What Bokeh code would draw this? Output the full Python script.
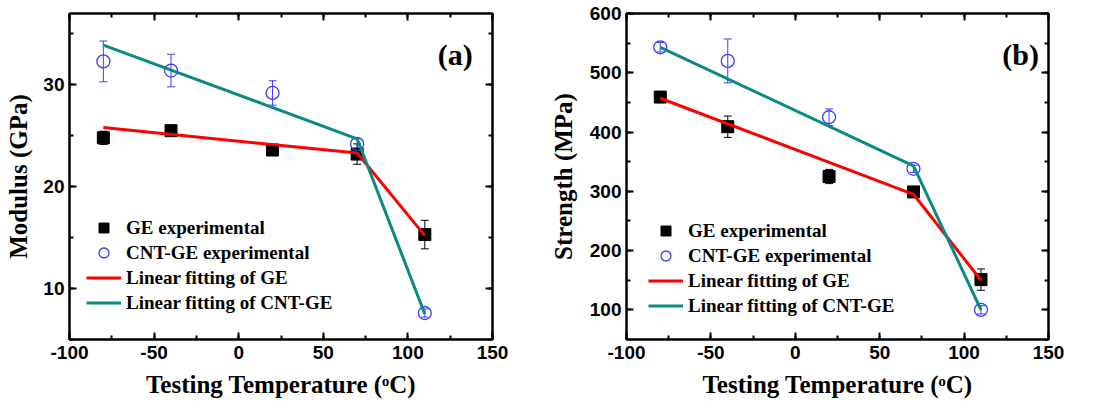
from bokeh.plotting import figure
from bokeh.layouts import row
from bokeh.models import (Range1d, LinearAxis, SingleIntervalTicker, Whisker, ColumnDataSource,
                          Legend, LegendItem, Label, TeeHead, CustomLabelingPolicy)
from bokeh.embed import file_html
from bokeh.resources import INLINE

# ---------------- data ----------------
temps = [-80, -40, 20, 70, 110]
fit_temps = [-80, 70, 110]

ge_modulus = [24.8, 25.5, 23.6, 23.2, 15.3]
ge_modulus_err = [0.65, 0.3, 0.3, 1.0, 1.4]
cnt_modulus = [32.3, 31.4, 29.2, 24.2, 7.6]
cnt_modulus_err = [2.0, 1.6, 1.2, 0.5, 0.4]
ge_modulus_fit = [25.8, 23.3, 15.2]
cnt_modulus_fit = [33.9, 24.7, 7.5]

ge_strength = [459, 409, 325, 299, 151]
ge_strength_err = [5, 18, 12, 5, 18]
cnt_strength = [543, 520, 425, 338, 100]
cnt_strength_err = [8, 37, 14, 6, 7]
ge_strength_fit = [457, 295, 150]
cnt_strength_fit = [543, 343, 100]

x_tick_labels = {-100: "-100", -50: "-50", 0: "0", 50: "50", 100: "100", 150: "150"}
legend_labels = ["GE experimental", "CNT-GE experimental", "Linear fitting of GE", "Linear fitting of CNT-GE"]
x_title = "Testing Temperature (ᵒC)"

SERIF = "Liberation Serif"
SANS = "Liberation Sans"
RED = "#ff0000"
TEAL = "#0a8a80"
BLUE = "#3c3cff"

HIDE_ALL = CustomLabelingPolicy(code="""
const out = [...indices];
for (const i of out) { indices.unset(i); }
return indices;
""")


def style_axis(ax, interval, show_labels=True):
    ax.ticker = SingleIntervalTicker(interval=interval, num_minor_ticks=2)
    ax.axis_line_color = "black"
    ax.axis_line_width = 2
    ax.major_tick_in = 7
    ax.major_tick_out = 0
    ax.minor_tick_in = 4
    ax.minor_tick_out = 0
    ax.major_tick_line_width = 2
    ax.minor_tick_line_width = 2
    ax.major_tick_line_color = "black"
    ax.minor_tick_line_color = "black"
    if show_labels:
        ax.major_label_text_font = SANS
        ax.major_label_text_font_style = "bold"
        ax.major_label_text_font_size = "19px"
        ax.major_label_text_color = "black"
        ax.axis_label_text_font = SERIF
        ax.axis_label_text_font_style = "bold"
        ax.axis_label_text_font_size = "25px"
        ax.axis_label_text_color = "black"
    else:
        ax.major_label_policy = HIDE_ALL
        ax.major_label_standoff = 0


def make_panel(width, left, right, yr, yint, ylabel, ystandoff,
               ge, ge_err, cnt, cnt_err, ge_fit, cnt_fit,
               tag, tag_x, tag_y, leg_loc):
    p = figure(width=width, height=408, output_backend="svg", toolbar_location=None,
               x_range=Range1d(-100, 150), y_range=Range1d(*yr),
               min_border_left=left, min_border_right=right, min_border_top=13, min_border_bottom=69,
               x_axis_label=x_title, y_axis_label=ylabel)
    p.grid.visible = False
    p.outline_line_color = "black"
    p.outline_line_width = 2
    p.background_fill_color = "white"
    p.border_fill_color = "white"

    style_axis(p.xaxis[0], 50)
    style_axis(p.yaxis[0], yint)
    p.xaxis[0].major_label_overrides = x_tick_labels
    p.xaxis[0].major_label_standoff = 6
    p.xaxis[0].axis_label_standoff = 9
    p.yaxis[0].major_label_standoff = 5
    p.yaxis[0].axis_label_standoff = ystandoff

    top = LinearAxis()
    style_axis(top, 50, show_labels=False)
    p.add_layout(top, "above")
    rgt = LinearAxis()
    style_axis(rgt, yint, show_labels=False)
    p.add_layout(rgt, "right")

    src_ge = ColumnDataSource(dict(x=temps, y=ge,
                                   lo=[v - e for v, e in zip(ge, ge_err)],
                                   hi=[v + e for v, e in zip(ge, ge_err)]))
    src_cnt = ColumnDataSource(dict(x=temps, y=cnt,
                                    lo=[v - e for v, e in zip(cnt, cnt_err)],
                                    hi=[v + e for v, e in zip(cnt, cnt_err)]))

    p.add_layout(Whisker(base="x", lower="lo", upper="hi", source=src_ge, line_color="black", line_width=1,
                         lower_head=TeeHead(size=8, line_color="black", line_width=1),
                         upper_head=TeeHead(size=8, line_color="black", line_width=1)))
    p.add_layout(Whisker(base="x", lower="lo", upper="hi", source=src_cnt, line_color=BLUE, line_width=1,
                         lower_head=TeeHead(size=8, line_color=BLUE, line_width=1),
                         upper_head=TeeHead(size=8, line_color=BLUE, line_width=1)))

    r_sq = p.scatter("x", "y", source=src_ge, marker="square", size=12, fill_color="black", line_color="black")
    r_ci = p.scatter("x", "y", source=src_cnt, marker="circle", size=13, fill_color=None,
                     line_color=BLUE, line_width=1.3)
    r_red = p.line(fit_temps, ge_fit, line_color=RED, line_width=3)
    r_teal = p.line(fit_temps, cnt_fit, line_color=TEAL, line_width=3)

    legend = Legend(items=[LegendItem(label=legend_labels[0], renderers=[r_sq]),
                           LegendItem(label=legend_labels[1], renderers=[r_ci]),
                           LegendItem(label=legend_labels[2], renderers=[r_red]),
                           LegendItem(label=legend_labels[3], renderers=[r_teal])],
                    location=leg_loc, margin=0, padding=0, spacing=0,
                    glyph_width=35, glyph_height=25, label_height=25, label_standoff=5,
                    border_line_alpha=0, background_fill_alpha=0,
                    label_text_font=SERIF, label_text_font_style="bold",
                    label_text_font_size="19px", label_text_color="black")
    p.add_layout(legend)

    p.add_layout(Label(x=tag_x, y=tag_y, text=tag, text_font=SERIF, text_font_style="bold",
                       text_font_size="30px", text_align="center", text_baseline="middle",
                       text_color="black"))
    return p


pa = make_panel(546, 69, 54, (5, 37), 10, "Modulus (GPa)", 8,
                ge_modulus, ge_modulus_err, cnt_modulus, cnt_modulus_err,
                ge_modulus_fit, cnt_modulus_fit, "(a)", 128, 33.0, (17, 24))
pb = make_panel(547, 79, 45, (50, 600), 100, "Strength (MPa)", 10,
                ge_strength, ge_strength_err, cnt_strength, cnt_strength_err,
                ge_strength_fit, cnt_strength_fit, "(b)", 133.5, 531, (22, 21))

layout = row(pa, pb, spacing=0)
open("out.html", "w").write(file_html(layout, INLINE))
